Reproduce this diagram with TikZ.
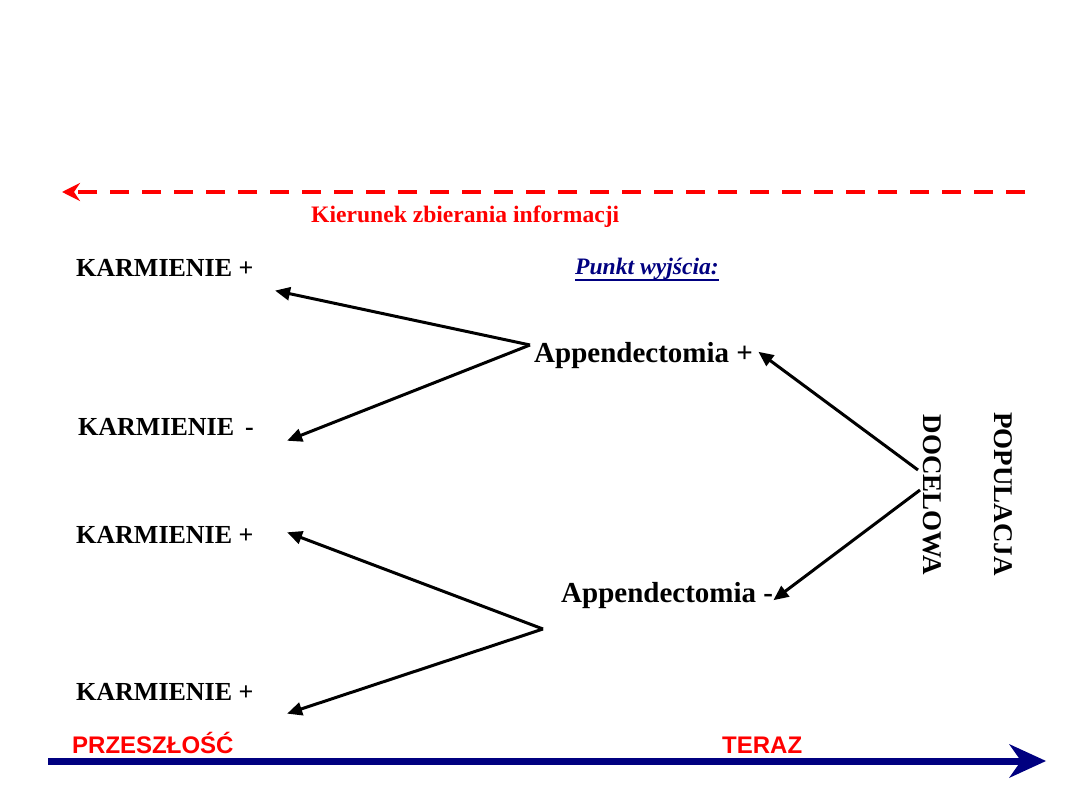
\documentclass[tikz,border=0pt]{standalone}
\usepackage{fontspec}
\setmainfont{Liberation Serif}
\newfontfamily\arialfont{Liberation Sans}
\usetikzlibrary{arrows.meta}
\definecolor{navyblue}{RGB}{0,0,128}
\definecolor{pureRed}{RGB}{255,0,0}
\tikzset{
  karm/.style={anchor=base west, inner sep=0pt, font=\fontsize{26}{31}\selectfont\bfseries},
  appe/.style={anchor=base west, inner sep=0pt, font=\fontsize{29}{34}\selectfont\bfseries},
  popu/.style={rotate=-90, inner sep=0pt, font=\fontsize{27}{32}\selectfont\bfseries},
  timelbl/.style={anchor=base west, inner sep=0pt, text=pureRed, font=\arialfont\fontsize{24}{29}\selectfont\bfseries},
  blackarrow/.style={line width=3pt, -{Triangle[length=15pt,width=13pt]}, shorten >=-2pt},
}
\begin{document}
\begin{tikzpicture}[x=1pt,y=-1pt]
\useasboundingbox (0,0) rectangle (1080,810);
\fill[white] (0,0) rectangle (1080,810);

% red dashed arrow
\coordinate (redS) at (1025,192);
\coordinate (redE) at (62,192);
\draw[pureRed, line width=4pt, dash pattern=on 19pt off 13pt,
      -{Stealth[length=18pt,width=18pt,inset=6pt]}] (redS) -- (redE);
\node[anchor=base west, inner sep=0pt, text=pureRed,
      font=\fontsize{23.6}{28}\selectfont\bfseries] (kier) at (311,223) {Kierunek zbierania informacji};

% left labels
\node[karm] (k1) at (76,277) {KARMIENIE +};
\node[karm] (k2) at (78,436) {KARMIENIE \,-};
\node[karm] (k3) at (76,543) {KARMIENIE +};
\node[karm] (k4) at (76,700) {KARMIENIE +};

\node[anchor=base west, inner sep=0pt, text=navyblue,
      font=\fontsize{23.6}{28}\selectfont\bfseries\itshape] (punkt) at (575,275) {Punkt wyjścia:};
\draw[navyblue, line width=1.6pt] ([yshift=-5pt]punkt.base west) -- ([yshift=-5pt]punkt.base east);

\node[appe] (ap) at (534,363) {Appendectomia +};
\node[appe] (am) at (561,602) {Appendectomia -};

\node[popu] (pop) at (1003,494) {POPULACJA};
\node[popu] (doc) at (932,495) {DOCELOWA};

% arrows
\coordinate (s1) at (530,345);
\coordinate (t1) at (277,291);
\coordinate (t2) at (289,440);
\draw[blackarrow] (s1) -- (t1);
\draw[blackarrow] (s1) -- (t2);

\coordinate (p1) at (918,470);
\coordinate (p2) at (920,490);
\coordinate (t3) at (760,353);
\coordinate (t4) at (775,599);
\draw[blackarrow] (p1) -- (t3);
\draw[blackarrow] (p2) -- (t4);

\coordinate (s2) at (543,629);
\coordinate (t5) at (289,533);
\coordinate (t6) at (289,713);
\draw[blackarrow] (s2) -- (t5);
\draw[blackarrow] (s2) -- (t6);

% time axis
\coordinate (axS) at (48,761);
\coordinate (axE) at (1022,761);
\draw[navyblue, line width=7pt] (axS) -- (axE);
\fill[navyblue] (1046,761) -- (1009,744) -- (1021,761) -- (1009,778) -- cycle;
\node[timelbl] (past) at (72,753) {PRZESZŁOŚĆ};
\node[timelbl] (now) at (722,753) {TERAZ};
\end{tikzpicture}
\end{document}
